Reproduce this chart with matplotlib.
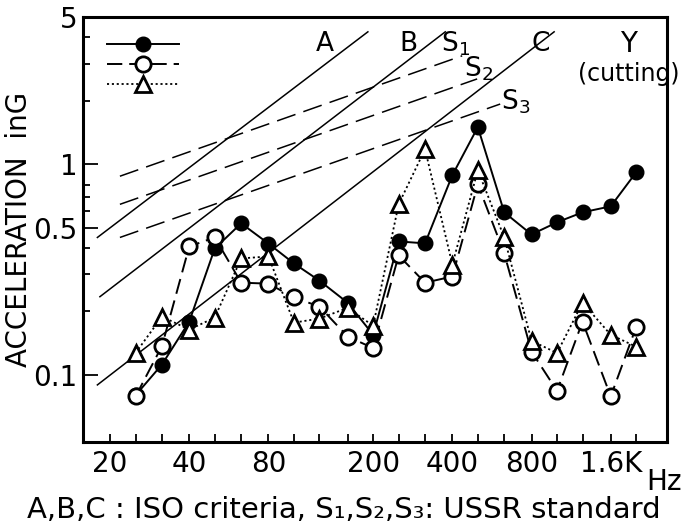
import matplotlib
matplotlib.use("Agg")
import matplotlib.pyplot as plt
from matplotlib.ticker import FixedLocator, NullFormatter

plt.rcParams["font.family"] = ["DejaVu Sans"]
plt.rcParams["lines.scale_dashes"] = False

# third-octave centre frequencies (Hz)
freqs = [25, 31.5, 40, 50, 63, 80, 100, 125, 160, 200,
         250, 315, 400, 500, 630, 800, 1000, 1250, 1600, 2000]
# acceleration in G
accel_filled = [0.080, 0.112, 0.179, 0.398, 0.524, 0.420, 0.338, 0.280, 0.220, 0.155,
                0.430, 0.421, 0.887, 1.50, 0.591, 0.464, 0.530, 0.591, 0.631, 0.916]
accel_open = [0.079, 0.137, 0.407, 0.449, 0.274, 0.271, 0.233, 0.211, 0.152, 0.134,
              0.369, 0.274, 0.293, 0.803, 0.377, 0.129, 0.084, 0.179, 0.079, 0.169]
accel_tri = [0.127, 0.189, 0.164, 0.187, 0.357, 0.365, 0.177, 0.185, 0.208, 0.171,
             0.645, 1.179, 0.334, 0.936, 0.449, 0.145, 0.127, 0.220, 0.155, 0.136]

# ISO criteria lines (end points)
iso_a_f = [17.9, 191]
iso_a_g = [0.449, 4.25]
iso_b_f = [18.3, 376]
iso_b_g = [0.235, 4.25]
iso_c_f = [17.9, 975]
iso_c_g = [0.0896, 4.25]
# USSR standard lines
s1_f = [21.8, 436]
s1_g = [0.877, 3.27]
s2_f = [21.8, 497]
s2_g = [0.645, 2.54]
s3_f = [21.8, 608]
s3_g = [0.449, 1.93]

tick_freqs = [20, 25, 31.5, 40, 50, 63, 80, 100, 125, 160, 200, 250,
              315, 400, 500, 630, 800, 1000, 1250, 1600, 2000]
tick_names = {20: "20", 40: "40", 80: "80", 200: "200", 400: "400",
              800: "800", 1600: "1.6K"}

fig = plt.figure(figsize=(6.87, 5.30), dpi=100)
ax = fig.add_axes([0.121, 0.166, 0.850, 0.802])
ax.set_xscale("log")
ax.set_yscale("log")
ax.set_xlim(15.8, 2620)
ax.set_ylim(0.048, 5.0)

# criteria lines
for f, g in [(iso_a_f, iso_a_g), (iso_b_f, iso_b_g), (iso_c_f, iso_c_g)]:
    ax.plot(f, g, color="black", lw=1.1)
for f, g in [(s1_f, s1_g), (s2_f, s2_g), (s3_f, s3_g)]:
    ax.plot(f, g, color="black", lw=1.1, dashes=(14, 6))

# measured spectra
h1, = ax.plot(freqs, accel_filled, color="black", lw=1.4, marker="o",
              ms=10.5, mfc="black", mec="black")
h2, = ax.plot(freqs, accel_open, color="black", lw=1.4, dashes=(11, 5),
              marker="o", ms=11, mfc="white", mec="black", mew=2)
h3, = ax.plot(freqs, accel_tri, color="black", lw=1.3, dashes=(1.5, 2),
              marker="^", ms=12, mfc="white", mec="black", mew=2)

ax.legend([h1, h2, h3], ["", "", ""], loc="upper left", frameon=False,
          bbox_to_anchor=(0.027, 0.974), handlelength=3.7, handletextpad=0,
          labelspacing=0.05, fontsize=14, borderaxespad=0)

# line labels
ax.text(131, 3.73, "A", fontsize=19, ha="center", va="center")
ax.text(272, 3.73, "B", fontsize=19, ha="center", va="center")
ax.text(863, 3.73, "C", fontsize=19, ha="center", va="center")
ax.text(410, 3.73, "S$_1$", fontsize=19, ha="center", va="center")
ax.text(501, 2.83, "S$_2$", fontsize=19, ha="center", va="center")
ax.text(693, 1.97, "S$_3$", fontsize=19, ha="center", va="center")
ax.text(1866, 3.73, "Y", fontsize=20, ha="center", va="center")
ax.text(1866, 2.68, "(cutting)", fontsize=17, ha="center", va="center")

# axes styling
for s in ax.spines.values():
    s.set_linewidth(2.2)
ax.xaxis.set_major_locator(FixedLocator(tick_freqs))
ax.xaxis.set_minor_locator(FixedLocator([]))
ax.set_xticklabels([tick_names.get(t, "") for t in tick_freqs])
ax.tick_params(axis="x", which="major", direction="in", length=6, width=1.3,
               labelsize=20, pad=6)
ax.yaxis.set_major_locator(FixedLocator([0.1, 0.5, 1, 5]))
ax.set_yticklabels(["0.1", "0.5", "1", "5"])
ax.yaxis.set_minor_locator(FixedLocator([0.2, 0.3, 0.4, 0.6, 0.7, 0.8, 2, 3, 4]))
ax.yaxis.set_minor_formatter(NullFormatter())
ax.tick_params(axis="y", which="major", direction="in", length=11, width=1.3,
               labelsize=20, pad=4)
ax.tick_params(axis="y", which="minor", direction="in", length=5, width=1.3)

ax.set_ylabel("ACCELERATION  inG", fontsize=20, labelpad=0)
ax.text(1.025, -0.06, "Hz", transform=ax.transAxes, fontsize=20,
        ha="right", va="top")
fig.text(0.5, 0.037, "A,B,C : ISO criteria, S\u2081,S\u2082,S\u2083: USSR standard",
         fontsize=21, ha="center", va="center")

fig.savefig("out.png", dpi=100)
